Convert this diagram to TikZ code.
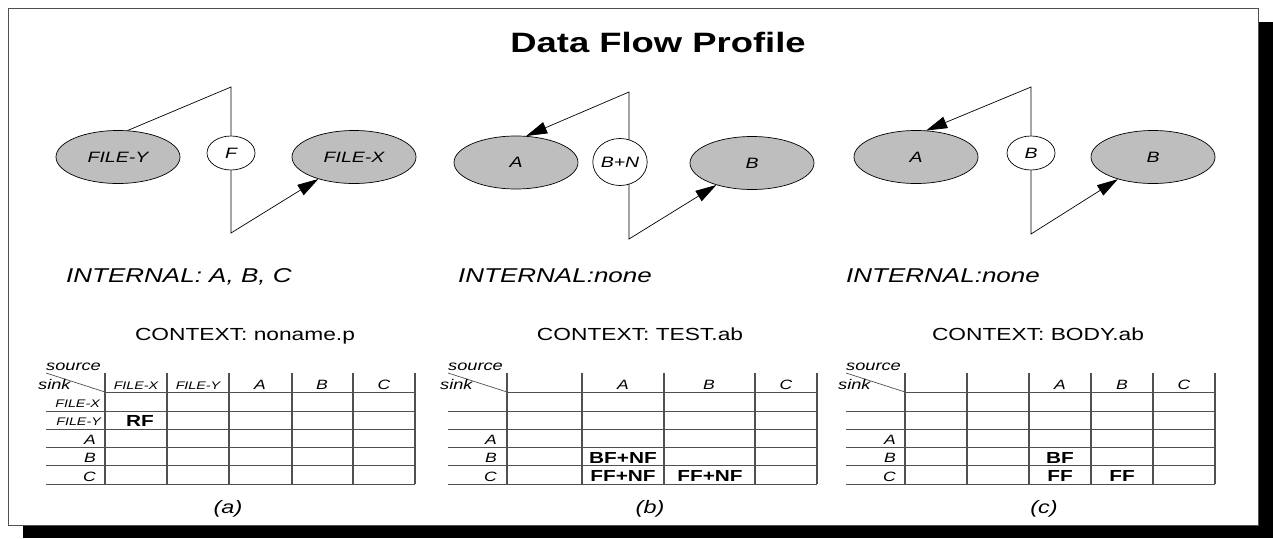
\documentclass[tikz,border=0pt]{standalone}
\usepackage{fontspec}
\usetikzlibrary{arrows.meta,shapes.geometric}
\newfontfamily\hv[FakeStretch=1.3]{Liberation Sans}
\newcommand{\fs}[1]{\fontsize{#1}{#1}\selectfont}
\definecolor{nodefill}{RGB}{190,190,190}
\definecolor{rulegray}{RGB}{80,80,80}

\begin{document}
\begin{tikzpicture}[x=1pt,y=-1pt,
  fileell/.style={ellipse,draw,fill=nodefill,line width=0.7pt,minimum width=124pt,
    minimum height=53pt,inner sep=0pt,font=\hv\itshape\fs{15}},
  opell/.style={ellipse,draw,fill=white,line width=0.7pt,minimum width=48pt,
    minimum height=34pt,inner sep=0pt,font=\hv\itshape\fs{15}},
  wire/.style={line width=0.7pt},
  flow/.style={wire,-{Triangle[length=21pt,width=12pt]}},
  hrule/.style={draw=rulegray,line width=0.8pt},
  vrule/.style={draw=rulegray,line width=1.2pt},
  hdsmall/.style={anchor=base,inner sep=0pt,font=\hv\itshape\fs{11}},
  hdbig/.style={anchor=base,inner sep=0pt,font=\hv\itshape\fs{13.5}},
  rowsmall/.style={anchor=base east,inner sep=0pt,font=\hv\itshape\fs{11}},
  rowbig/.style={anchor=base east,inner sep=0pt,font=\hv\itshape\fs{13.5}},
  corner/.style={anchor=base west,inner sep=0pt,font=\hv\itshape\fs{14}},
  cellb/.style={anchor=base,inner sep=0pt,font=\hv\bfseries\fs{16}},
  internal/.style={anchor=base west,inner sep=0pt,font=\hv\itshape\fs{20}},
  context/.style={anchor=base,inner sep=0pt,font=\hv\fs{17.5}},
  caption/.style={anchor=base,inner sep=0pt,font=\hv\itshape\fs{18}}]

\useasboundingbox (0,0) rectangle (1273,538);

% shadowed frame
\fill[black] (23,22) rectangle (1273,538);
\draw[draw=rulegray,fill=white,line width=0.8pt] (8,8) rectangle (1258,525);

\node[inner sep=0pt,font=\hv\bfseries\fs{28}] (title) at (658,42) {Data Flow Profile};

% ---------- graph (a)
\node[fileell] (fy) at (118,157) {FILE-Y};
\node[opell] (fa) at (231,153) {F};
\node[fileell] (fx) at (354,157) {FILE-X};
\coordinate (a1) at (231,87);
\coordinate (a2) at (231,233);
\draw[wire] (fy.70) -- (a1) -- (fa.north);
\draw[flow] (fa.south) -- (a2) -- (fx);

% ---------- graph (b)
\node[fileell] (ab) at (516,162.5) {A};
\node[opell,minimum width=42pt,minimum height=47pt] (bn) at (620,162) {B+N};
\node[fileell] (bb) at (752,163) {B};
\coordinate (b1) at (629,92);
\coordinate (b2) at (629,239);
\draw[flow] (b1 |- bn.64) -- (b1) -- (ab.69);
\draw[flow] (b1 |- bn.-64) -- (b2) -- (bb);

% ---------- graph (c)
\node[fileell] (ac) at (916,157) {A};
\node[opell] (bc) at (1031,153) {B};
\node[fileell] (bcc) at (1153,157) {B};
\coordinate (c1) at (1031,87);
\coordinate (c2) at (1031,234);
\draw[flow] (bc.north) -- (c1) -- (ac.69);
\draw[flow] (bc.south) -- (c2) -- (bcc);

% ---------- labels
\node[internal] (ia) at (66,282) {INTERNAL: A, B, C};
\node[internal] (ib) at (458,282) {INTERNAL:none};
\node[internal] (ic) at (846,282) {INTERNAL:none};
\node[context] (xa) at (245,340) {CONTEXT: noname.p};
\node[context] (xb) at (640,340) {CONTEXT: TEST.ab};
\node[context] (xc) at (1038,340) {CONTEXT: BODY.ab};

% ---------- table (a)
\draw[hrule] (105,392) -- (415,392);
\foreach \y in {411,429,447,465,484} \draw[hrule] (46,\y) -- (415,\y);
\foreach \x in {105,167,229,292,353,415} \draw[vrule] (\x,373) -- (\x,484);
\draw[hrule,line width=0.7pt] (46,373) -- (105,392);
\node[corner] (sa) at (46,370) {source};
\node[corner] (ka) at (38,389) {sink};
\node[hdsmall] at (136,389) {FILE-X};
\node[hdsmall] at (198,389) {FILE-Y};
\node[hdbig] at (260,389) {A};
\node[hdbig] at (322,389) {B};
\node[hdbig] at (384,389) {C};
\node[rowsmall] at (100,407) {FILE-X};
\node[rowsmall] at (101,425) {FILE-Y};
\node[rowbig] at (96,444) {A};
\node[rowbig] at (96,462) {B};
\node[rowbig] at (96,481) {C};
\node[cellb] at (140,426) {RF};
\node[caption] (capa) at (228,513) {(a)};

% ---------- table (b)
\draw[hrule] (507,392) -- (817,392);
\foreach \y in {411,429,447,465,484} \draw[hrule] (448,\y) -- (817,\y);
\foreach \x in {507,582,664,755,817} \draw[vrule] (\x,373) -- (\x,484);
\draw[hrule,line width=0.7pt] (448,373) -- (507,392);
\node[corner] (sb) at (448,370) {source};
\node[corner] (kb) at (440,389) {sink};
\node[hdbig] at (623,389) {A};
\node[hdbig] at (709,389) {B};
\node[hdbig] at (786,389) {C};
\node[rowbig] at (497,444) {A};
\node[rowbig] at (497,462) {B};
\node[rowbig] at (497,481) {C};
\node[cellb] at (623,463) {BF+NF};
\node[cellb] at (623,481) {FF+NF};
\node[cellb] at (710,481) {FF+NF};
\node[caption] (capb) at (650,513) {(b)};

% ---------- table (c)
\draw[hrule] (905,392) -- (1215,392);
\foreach \y in {411,429,447,465,484} \draw[hrule] (846,\y) -- (1215,\y);
\foreach \x in {905,967,1029,1091,1153,1215} \draw[vrule] (\x,373) -- (\x,484);
\draw[hrule,line width=0.7pt] (846,373) -- (905,392);
\node[corner] (sc) at (846,370) {source};
\node[corner] (kc) at (838,389) {sink};
\node[hdbig] at (1060,389) {A};
\node[hdbig] at (1122,389) {B};
\node[hdbig] at (1184,389) {C};
\node[rowbig] at (896,444) {A};
\node[rowbig] at (896,462) {B};
\node[rowbig] at (896,481) {C};
\node[cellb] at (1060,463) {BF};
\node[cellb] at (1060,481) {FF};
\node[cellb] at (1122,481) {FF};
\node[caption] (capc) at (1044,513) {(c)};

\end{tikzpicture}
\end{document}
